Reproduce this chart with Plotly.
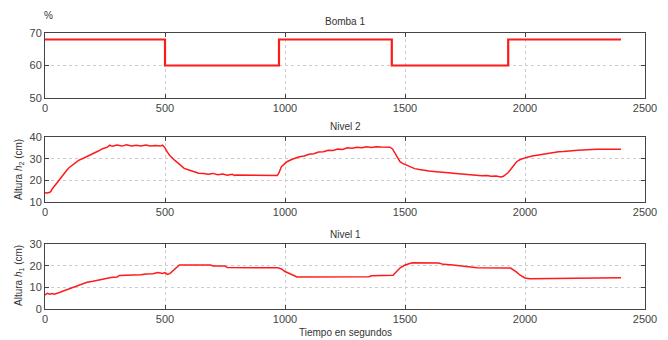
import plotly.graph_objects as go

# ---- data ----
bomba_t = [0, 500, 975, 1445, 1930, 2400]
bomba_v = [68, 60, 68, 60, 68, 68]

n2_t = [0, 10, 20, 25, 30, 40, 50, 60, 75, 90, 100, 120, 140, 160, 180, 200, 220, 240, 260, 270,
        280, 300, 320, 340, 360, 380, 400, 420, 440, 460, 480, 490, 500, 510, 520, 540, 560, 580,
        600, 620, 640, 660, 680, 700, 720, 740, 760, 780, 790, 800, 900, 968,
        975, 985, 1000, 1010, 1030, 1060, 1080, 1100, 1120, 1140,
        1160, 1180, 1200, 1220, 1240, 1260, 1280, 1300, 1320, 1340,
        1360, 1380, 1400, 1437, 1448, 1458, 1468, 1479, 1490, 1500,
        1510, 1521, 1540, 1560, 1576, 1600, 1620, 1640, 1660, 1680,
        1700, 1720, 1740, 1757, 1780, 1800, 1820, 1840, 1860, 1880,
        1900, 1910, 1920, 1930, 1940, 1955, 1965, 1980, 1995, 2010,
        2030, 2050, 2076, 2100, 2120, 2140, 2160, 2180, 2200, 2220,
        2240, 2260, 2280, 2300, 2320, 2400]
n2_v = [14.3, 14.2, 14.5, 15, 16, 17.5, 19, 20.5, 22.5, 24.5, 25.8, 27.5, 29.2, 30.2, 31.2, 32.3,
        33.4, 34.6, 35.3, 36.2, 35.7, 36.3, 35.8, 36.4, 35.9, 36.2, 35.8, 36.3, 35.9, 36.1, 35.8,
        36.2, 35.0, 33.0, 31.5, 29.3, 27.5, 25.5, 24.8, 24.0, 23.3, 23.1, 22.8, 23.2, 22.6, 22.9,
        22.4, 22.8, 22.3, 22.5, 22.3, 22.2,
        23.5, 26.3, 27.8, 28.7, 29.7, 30.9, 31.2, 32.0, 32.3, 33.1,
        33.2, 33.9, 33.8, 34.4, 34.2, 35.0, 34.8, 35.3, 35.0, 35.5,
        35.2, 35.5, 35.4, 35.3, 34.5, 32.5, 30.3, 28.6, 27.8, 27.3,
        26.6, 26.2, 25.4, 25.0, 24.6, 24.3, 24.1, 23.8, 23.7, 23.5,
        23.3, 23.1, 22.8, 22.5, 22.4, 22.3, 22.1, 22.2, 21.9, 22.0,
        21.6, 21.9, 22.6, 23.6, 25.0, 27.3, 28.6, 29.6, 30.3, 30.7,
        31.2, 31.6, 32.2, 32.6, 32.8, 33.2, 33.3, 33.6, 33.7, 33.9,
        34.0, 34.2, 34.1, 34.4, 34.3, 34.3]

n1_t = [0, 10, 20, 30, 40, 50, 60, 80, 100, 120, 150, 175, 200, 225, 250, 275, 300, 310, 350, 400,
        420, 450, 470, 490, 500, 510, 520, 540, 555, 560, 690, 700, 750, 760, 970, 985, 1000, 1020,
        1040, 1050, 1350, 1360, 1450, 1460, 1480, 1500, 1530, 1640, 1660, 1700, 1730, 1750, 1780,
        1800, 1940, 1950, 1965, 1980, 2000, 2020, 2250, 2380, 2400]
n1_v = [6.5, 7.2, 6.8, 7.1, 6.8, 7.2, 7.5, 8.2, 9.0, 9.8, 11.0, 12.3, 12.8, 13.5, 14.0, 14.5, 14.8,
        15.5, 15.6, 15.8, 16.2, 16.3, 16.8, 16.4, 16.8, 16.0, 16.3, 18.3, 20.0, 20.3, 20.3, 19.9,
        19.8, 19.1, 19.0, 18.5, 17.3, 16.2, 15.0, 14.8, 14.9, 15.3, 15.6, 16.8, 19.0, 20.3, 21.3,
        21.2, 20.6, 20.3, 19.9, 19.5, 19.2, 19.0, 18.9, 18.2, 17.0, 15.6, 14.3, 14.0, 14.1, 14.5,
        14.4]

x_ticks = [0, 500, 1000, 1500, 2000, 2500]

# the page has an 8px body margin: the figure sits at (8, 8) in the window
OFF = 8
W, H = 668 - OFF, 340 - OFF
FONT = "Liberation Sans, Arial, sans-serif"
RED = "#ff1a1a"


def px(x):
    return (x - OFF) / W


def py(y):
    return (H - (y - OFF)) / H


fig = go.Figure()
fig.add_trace(go.Scatter(x=bomba_t, y=bomba_v, mode="lines", line=dict(color=RED, width=2.2, shape="hv"),
                         xaxis="x", yaxis="y"))
fig.add_trace(go.Scatter(x=n2_t, y=n2_v, mode="lines", line=dict(color=RED, width=1.5),
                         xaxis="x2", yaxis="y2"))
fig.add_trace(go.Scatter(x=n1_t, y=n1_v, mode="lines", line=dict(color=RED, width=1.5),
                         xaxis="x3", yaxis="y3"))

common_axis = dict(showline=True, linecolor="#444444", linewidth=1, mirror="ticks",
                   ticks="inside", ticklen=4, tickcolor="#444444", automargin=False,
                   showgrid=True, gridcolor="#cccccc", griddash="dot", gridwidth=1,
                   zeroline=False, tickfont=dict(family=FONT, size=11, color="#444444"))

layout_axes = {}
doms = [(33, 98, [50, 70]), (137, 202, [10, 40]), (244, 309, [0, 30])]
for i, (t, b, rng) in enumerate(doms):
    sx = "" if i == 0 else str(i + 1)
    layout_axes["xaxis" + sx] = dict(common_axis, domain=[px(45), px(645)], range=[0, 2500],
                                     tickvals=x_ticks, anchor="y" + sx)
    layout_axes["yaxis" + sx] = dict(common_axis, domain=[py(b), py(t)], range=rng, dtick=10,
                                     anchor="x" + sx)

fig.update_layout(**layout_axes)

ann = [
    dict(text="Bomba 1", x=px(345), y=py(22)),
    dict(text="%", x=px(48), y=py(15)),
    dict(text="Nivel 2", x=px(345), y=py(126)),
    dict(text="Nivel 1", x=px(345), y=py(234)),
    dict(text="Tiempo en segundos", x=px(345), y=py(332)),
    dict(text="Altura <i>h</i><sub>2</sub> (cm)", x=px(19), y=py(170), textangle=-90),
    dict(text="Altura <i>h</i><sub>1</sub> (cm)", x=px(19), y=py(276), textangle=-90),
]
annotations = []
for a in ann:
    d = dict(xref="paper", yref="paper", showarrow=False, xanchor="center", yanchor="middle",
             font=dict(family=FONT, size=10, color="#333333"))
    d.update(a)
    annotations.append(d)

fig.update_layout(width=W, height=H, margin=dict(l=0, r=0, t=0, b=0),
                  paper_bgcolor="white", plot_bgcolor="white", showlegend=False,
                  annotations=annotations)

fig.write_html("out.html")
